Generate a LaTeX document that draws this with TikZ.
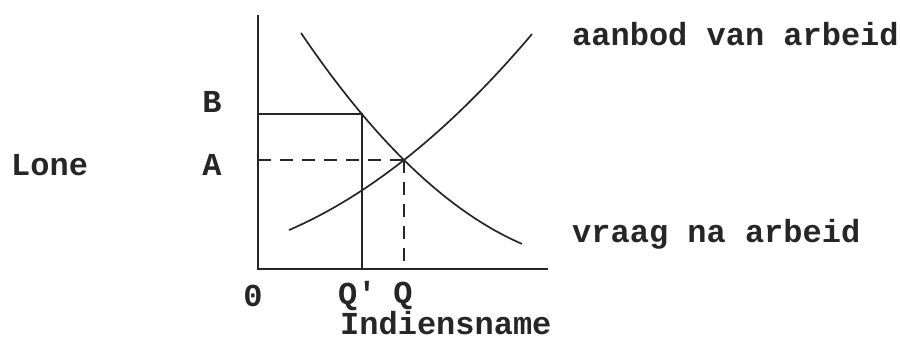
\documentclass[tikz,border=0pt]{standalone}
\usepackage{fontspec}
\setmainfont[Ligatures=TeXOff]{Liberation Mono}
\begin{document}
\begin{tikzpicture}[x=1pt,y=-1pt,
  axis/.style={line width=2.2pt,color=black!85},
  curve/.style={line width=1.7pt,color=black!85},
  guide/.style={line width=1.6pt,color=black!85},
  guidedash/.style={line width=1.6pt,color=black!85,dash pattern=on 13pt off 9pt},
  lbl/.style={font=\fontsize{32}{32}\bfseries\selectfont,text=black!85,inner sep=0pt}]
\useasboundingbox (0,0) rectangle (900,342);
% axes
\coordinate (O) at (258,269);
\coordinate (ytop) at (258,15);
\coordinate (xend) at (548,269);
\draw[axis] (ytop) -- (O) -- (xend);
% levels
\coordinate (Bax) at (258,114);
\coordinate (Bpt) at (362,114);
\coordinate (Qp) at (362,269);
\coordinate (Aax) at (258,160);
\coordinate (E) at (404,160);
\coordinate (Qx) at (404,269);
\draw[guide] (Bax) -- (Bpt) -- (Qp);
\draw[guidedash] (Aax) -- (E);
\draw[guidedash] (E) -- (Qx);
% demand curve (vraag)
\draw[curve] plot[domain=-103:118,samples=80] ({404+\x},{160+0.9901*\x-0.002358*\x*\x});
% supply curve (aanbod)
\draw[curve] plot[domain=-115:128,samples=80] ({404+\x},{160-0.7865*\x-0.001546*\x*\x});
% labels
\node[lbl] (lB) at (212,102) {B};
\node[lbl] (lA) at (212,165) {A};
\node[lbl,anchor=west] (lLone) at (11,165) {Lone};
\node[lbl] (l0) at (253,296) {0};
\node[lbl,anchor=west] (lQp) at (338,296) {Q'};
\node[lbl] (lQ) at (403,296) {Q};
\node[lbl,anchor=west] (lInd) at (340,323) {Indiensname};
\node[lbl,anchor=west] (lS) at (572,34) {aanbod van arbeid};
\node[lbl,anchor=west] (lD) at (572,234) {vraag na arbeid};
\end{tikzpicture}
\end{document}
